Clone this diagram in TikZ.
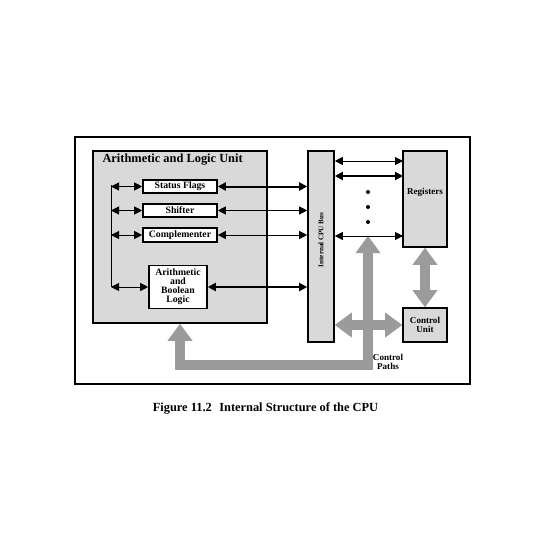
\documentclass[tikz,border=0pt]{standalone}
\usepackage{fontspec}
\setmainfont{Liberation Serif}
\usetikzlibrary{arrows.meta}

\definecolor{boxgray}{RGB}{217,217,217}
\definecolor{pathgray}{RGB}{155,155,155}

\tikzset{every picture/.style={line width=0.75pt}}
\tikzset{
  unitbox/.style={draw, line width=1.2pt, fill=boxgray, inner sep=0pt},
  partbox/.style={draw, line width=1.2pt, fill=white, inner sep=0pt, align=center, font=\fontsize{7.3}{6.75}\selectfont\bfseries},
  smalltext/.style={inner sep=0.75pt, align=center, font=\fontsize{6.8}{6.2}\selectfont\bfseries},
  busarrow/.style={{Triangle[length=6pt,width=6pt]}-{Triangle[length=6pt,width=6pt]}},
  thickbus/.style={busarrow, line width=1.5pt},
  pathway/.style={draw=pathgray, line width=7.5pt, {Triangle[length=12.75pt,width=18.75pt,line width=0pt]}-{Triangle[length=12.75pt,width=18.75pt,line width=0pt]}}
}

\begin{document}
\begin{tikzpicture}[x=0.75pt,y=0.75pt,yscale=-1,xscale=1]
\path (0,0) rectangle (542,543); %set diagram to 542 x 543

%Shape: Rectangle [frame]
\draw [line width=1.5pt] (75,137) rectangle (470,384) ;

%Shape: Rectangle [ALU]
\node [unitbox, minimum width=130.5pt, minimum height=129pt] (alu) at (180,237) {};
%Shape: Rectangle [parts of the ALU]
\node [partbox, minimum width=55.5pt, minimum height=9.75pt] (flags) at (180,186.5) {Status Flags};
\node [partbox, minimum width=55.5pt, minimum height=9.75pt] (shifter) at (180,210.5) {Shifter};
\node [partbox, minimum width=55.5pt, minimum height=10.5pt] (compl) at (180,235) {Complementer};
\node [partbox, minimum width=43.5pt, minimum height=32.25pt] (arith) at (178,287) {Arithmetic\\and\\Boolean\\Logic};
%Shape: Rectangle [bus, registers, control unit]
\node [unitbox, minimum width=19.5pt, minimum height=143.25pt] (bus) at (321,246.5) {};
\node [unitbox, minimum width=33pt, minimum height=72pt] (regs) at (425,199) {};
\node [unitbox, smalltext, minimum width=33pt, minimum height=25.5pt] (ctrl) at (425,325) {Control\\Unit};

%Coordinates
\coordinate (spine) at (111,185) ;
\coordinate (reg1) at (403,161) ;
\coordinate (reg2) at (403,176) ;
\coordinate (reg3) at (403,236) ;
\coordinate (pathtop) at (368,236) ;
\coordinate (pathcorner) at (368,364.5) ;

%Control paths (grey)
\draw [pathway] (alu.south) |- (pathcorner) -- (pathtop) ;
\draw [pathway] (ctrl.west -| bus.east) -- (ctrl.west) ;
\draw [pathway] (regs.south) -- (ctrl.north) ;

%Straight Lines [inside the ALU]
\draw (spine) -- (spine |- arith.west) ;
\draw [busarrow] (spine |- flags.west) -- (flags.west) ;
\draw [busarrow] (spine |- shifter.west) -- (shifter.west) ;
\draw [busarrow] (spine |- compl.west) -- (compl.west) ;
\draw [busarrow] (spine |- arith.west) -- (arith.west) ;

%Straight Lines [ALU to bus]
\draw [thickbus] (flags.east) -- (flags.east -| bus.west) ;
\draw [busarrow] (shifter.east) -- (shifter.east -| bus.west) ;
\draw [busarrow] (compl.east) -- (compl.east -| bus.west) ;
\draw [thickbus] (arith.east) -- (arith.east -| bus.west) ;

%Straight Lines [bus to registers]
\draw [busarrow] (bus.east |- reg1) -- (reg1) ;
\draw [thickbus] (bus.east |- reg2) -- (reg2) ;
\draw [busarrow] (bus.east |- reg3) -- (reg3) ;

%Shape: Circle [dots]
\fill (368,192) circle [radius=2] ;
\fill (368,207) circle [radius=2] ;
\fill (368,222) circle [radius=2] ;

% Text Node
\node [anchor=west, inner sep=0.75pt, font=\fontsize{9.3}{11}\selectfont\bfseries] (alutitle) at (101,160) {Arithmetic and Logic Unit};
% Text Node
\node [rotate=90, inner sep=0.75pt, font=\fontsize{5.3}{6}\selectfont\bfseries] (buslabel) at (321,240) {Internal CPU Bus};
% Text Node
\node [smalltext] (reglabel) at (425,192) {Registers};
% Text Node
\node [smalltext] (pathlabel) at (388,362) {Control\\Paths};
% Text Node
\node [inner sep=0.75pt, font=\fontsize{9.3}{11}\selectfont\bfseries] (caption) at (265.5,408) {Figure 11.2\hspace{0.6em}Internal Structure of the CPU};

\end{tikzpicture}
\end{document}
